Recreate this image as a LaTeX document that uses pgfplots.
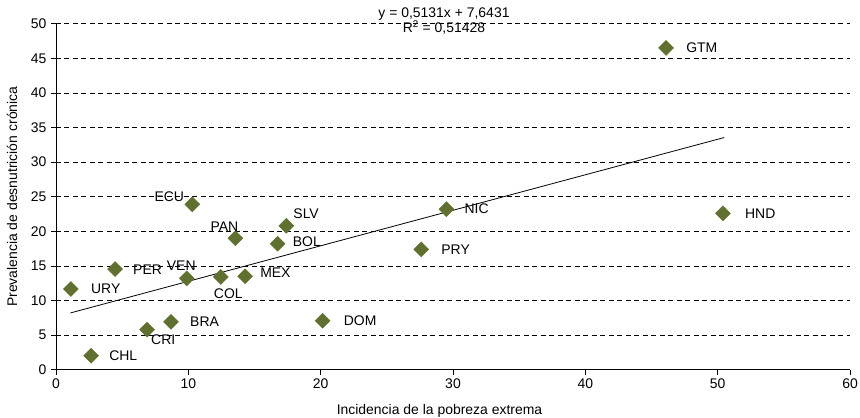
\documentclass[border=0pt]{standalone}
\usepackage{fontspec}
\setmainfont{Liberation Sans}
\usepackage{pgfplots}
\pgfplotsset{compat=1.18}
\definecolor{olive}{RGB}{96,112,48}
\begin{document}
\begin{tikzpicture}
\path[use as bounding box] (-56bp,-48.3bp) rectangle (804bp,369.7bp);
\begin{axis}[
  at={(0,0)}, anchor=origin,
  scale only axis, width=794bp, height=346bp,
  xmin=0, xmax=60, ymin=0, ymax=50,
  xtick={0,10,...,60}, ytick={0,5,...,50},
  axis x line*=bottom, axis y line*=left,
  axis line style={black, line width=0.8pt, -},
  tick align=outside, major tick length=5bp,
  tick style={black, line width=0.6pt},
  ymajorgrids, grid style={black, line width=0.6pt, dash pattern=on 5bp off 3.5bp},
  /pgf/number format/assume math mode=true,
  ticklabel style={font=\fontsize{14}{16}\selectfont},
  xticklabel style={yshift=-1bp},
  yticklabel style={xshift=-1bp},
  xlabel={Incidencia de la pobreza extrema},
  ylabel={Prevalencia de desnutrición crónica},
  label style={font=\fontsize{14}{16}\selectfont},
  xlabel style={at={(axis description cs:0.483,0)}, anchor=center, yshift=-41bp},
  ylabel style={at={(axis description cs:-0.0554,0.5)}, anchor=center, rotate=0},
  clip=false,
  nodes near coords={\pgfplotspointmeta},
  point meta=explicit symbolic,
]
\addplot[domain=1.1:50.5, samples=2, black, line width=0.8pt, forget plot, nodes near coords={}] ({x}, {0.5131*x+7.6431});
\addplot[only marks, mark=square*, mark size=5.3bp, mark options={rotate=45, fill=olive, draw=olive},
  visualization depends on={value \thisrow{ax} \as \ax},
  visualization depends on={value \thisrow{ay} \as \ay},
  nodes near coords style={font=\fontsize{14}{16}\selectfont, anchor=west, inner sep=0pt, xshift=\ax bp, yshift=\ay bp}]
  table[meta=lab] {
x y lab ax ay
46.1 46.5 GTM 20 0
50.4 22.6 HND 22 0
29.5 23.2 NIC 18 0
27.6 17.4 PRY 20 0
10.3 23.9 ECU -38 7.6
17.4 20.8 SLV 7 12
13.55 19.0 PAN -25 11.6
16.75 18.2 BOL 15 2
4.46 14.55 PER 18 -0.5
9.88 13.2 VEN -20 12.6
12.45 13.4 COL -7 -17
14.29 13.5 MEX 15 4
1.13 11.66 URY 20 0
8.69 6.9 BRA 19 0
6.88 5.78 CRI 4 -10
2.65 2.02 CHL 18 0
20.15 7.08 DOM 21 0
};
\end{axis}
\node[font=\fontsize{14}{15}\selectfont, align=center, inner sep=0pt] at (388bp,348.5bp) {y = 0,5131x + 7,6431\\[0.5pt]R\textsuperscript{2} = 0,51428};
\end{tikzpicture}
\end{document}
